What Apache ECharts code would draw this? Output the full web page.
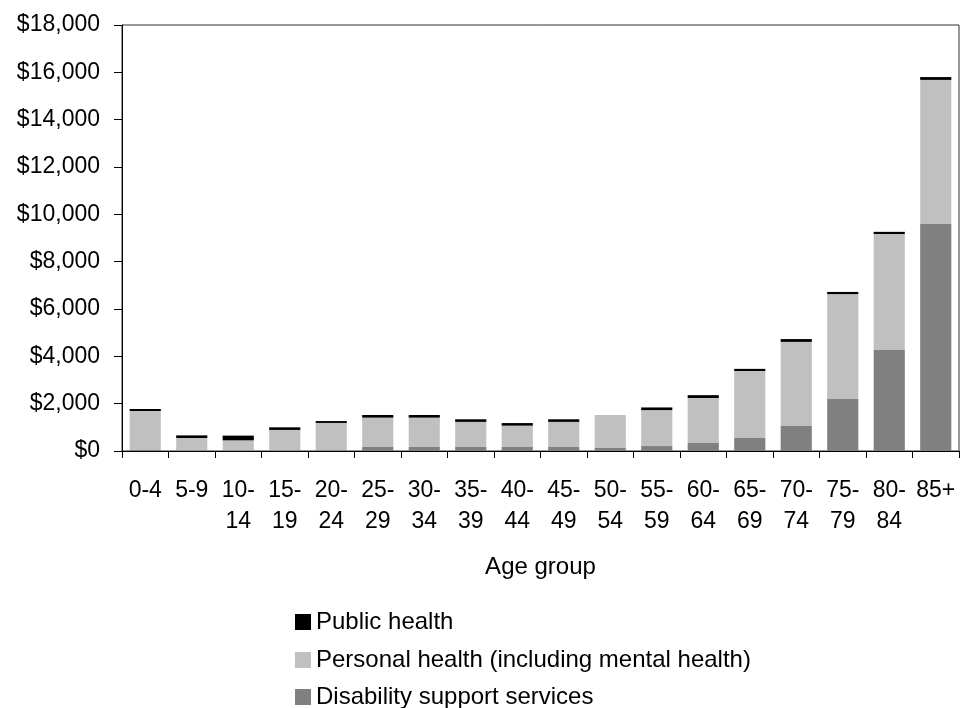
<!DOCTYPE html>
<html>
<head>
<meta charset="utf-8">
<script src="https://cdn.jsdelivr.net/npm/echarts@6/dist/echarts.min.js"></script>
<style>
html,body{margin:0;padding:0;background:#fff;}
#chart{width:962px;height:708px;}
</style>
</head>
<body>
<div id="chart"></div>
<script>
const categories = ['0-4','5-9','10-\n14','15-\n19','20-\n24','25-\n29','30-\n34','35-\n39','40-\n44','45-\n49','50-\n54','55-\n59','60-\n64','65-\n69','70-\n74','75-\n79','80-\n84','85+'];
const disability = [40,30,30,30,35,170,170,170,170,170,130,210,340,550,1060,2200,4270,9590];
const personal = [1650,520,420,860,1150,1240,1240,1060,900,1060,1390,1520,1900,2830,3550,4430,4900,6090];
const publicHealth = [85,110,200,110,80,110,110,110,110,110,0,110,120,90,120,90,90,120];
const seriesNames = ['Public health','Personal health (including mental health)','Disability support services'];
const yTicks = { min: 0, max: 18000, interval: 2000 };

const font = 'Liberation Sans, Arial, sans-serif';
const legendTops = [610, 648, 685];
const legends = seriesNames.map((n, i) => ({
  orient: 'vertical', left: 295, top: legendTops[i], padding: 0,
  icon: 'rect', itemWidth: 16, itemHeight: 16, itemTextGap: 8,
  textStyle: { fontFamily: font, fontSize: 24, color: '#000', lineHeight: 16 },
  data: [n]
}));

const chart = echarts.init(document.getElementById('chart'), null, {renderer:'canvas'});
chart.setOption({
  animation: false,
  backgroundColor: '#fff',
  textStyle: { fontFamily: font, color: '#000' },
  grid: { left: 122, right: 3, top: 25, bottom: 257, show: true, borderColor: '#333', borderWidth: 1 },
  legend: legends,
  xAxis: {
    type: 'category', data: categories,
    name: 'Age group', nameLocation: 'middle', nameGap: 104,
    nameTextStyle: { fontFamily: font, fontSize: 24, color: '#000' },
    axisLine: { lineStyle: { color: '#000', width: 1 } },
    axisTick: { show: true, length: 7, lineStyle: { color: '#000' } },
    axisLabel: { interval: 0, fontFamily: font, fontSize: 23, color: '#000', lineHeight: 31, margin: 24 }
  },
  yAxis: {
    type: 'value', min: yTicks.min, max: yTicks.max, interval: yTicks.interval,
    splitLine: { show: false },
    axisLine: { show: true, lineStyle: { color: '#000', width: 1 } },
    axisTick: { show: true, length: 8, lineStyle: { color: '#000' } },
    axisLabel: { fontFamily: font, fontSize: 23, color: '#000', margin: 22,
      formatter: v => '$' + v.toLocaleString('en-US') }
  },
  series: [
    { name: seriesNames[2], type: 'bar', stack: 'total', data: disability,
      itemStyle: { color: '#808080' }, barCategoryGap: '33%' },
    { name: seriesNames[1], type: 'bar', stack: 'total', data: personal,
      itemStyle: { color: '#c0c0c0' } },
    { name: seriesNames[0], type: 'bar', stack: 'total', data: publicHealth,
      itemStyle: { color: '#000000' } }
  ]
});
</script>
</body>
</html>
